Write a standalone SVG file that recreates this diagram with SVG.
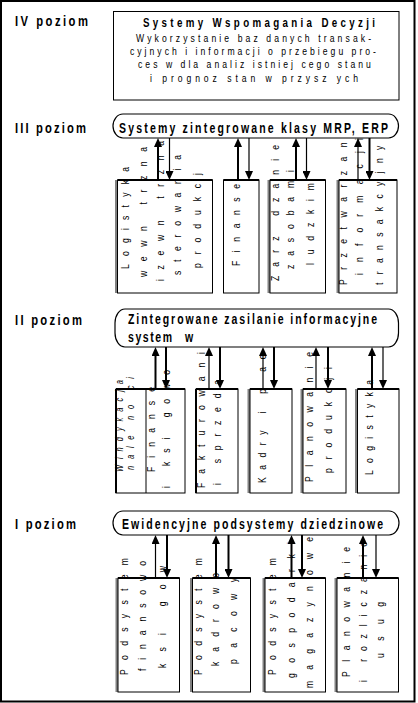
<svg xmlns="http://www.w3.org/2000/svg" width="418" height="703" viewBox="0 0 418 703">
<style>
text{font-family:"Liberation Sans",Arial,sans-serif;fill:#000}
.lbl{font-weight:bold;font-size:15px}
.pt{font-weight:bold;font-size:14px}
.tt{font-weight:bold;font-size:13px}
.bt{font-size:11.5px}
.vt{font-size:11.5px}
.it{font-size:10px;font-style:italic}
.frame{fill:none;stroke:#000;stroke-width:2}
.box{fill:#fff;stroke:#000;stroke-width:1}
.top{stroke:#000;stroke-width:2}
.sh{fill:#808080}
.dk{fill:#000}
.pill{fill:#fff;stroke:#000;stroke-width:1.2}
.c{stroke:#000;fill:none;marker-end:url(#ah)}
.w2{stroke-width:2}
.w1{stroke-width:1.2}
</style>
<defs>
<marker id="ah" viewBox="0 0 9 8" refX="5" refY="4" markerWidth="9" markerHeight="8" markerUnits="userSpaceOnUse" orient="auto"><path d="M0,0 L9,4 L0,8 z" fill="#000"/></marker>
</defs>
<rect x="0" y="0" width="418" height="703" fill="#fff"/>
<rect class="frame" x="1" y="1" width="413.5" height="700.5"/>

<g id="labels">
<text class="lbl" transform="translate(15,25.5) scale(0.75,1)" textLength="97.3" lengthAdjust="spacing">IV poziom</text>
<text class="lbl" transform="translate(15,133) scale(0.75,1)" textLength="94.7" lengthAdjust="spacing">III poziom</text>
<text class="lbl" transform="translate(15,324.5) scale(0.75,1)" textLength="89.3" lengthAdjust="spacing">II poziom</text>
<text class="lbl" transform="translate(15,529) scale(0.75,1)" textLength="81.3" lengthAdjust="spacing">I poziom</text>
</g>

<g id="n4">
<rect class="box" x="113.5" y="11.5" width="285.5" height="88.5" stroke-width="1.5"/>
<text class="tt" transform="translate(143,27.3) scale(0.75,1)" textLength="309.4" lengthAdjust="spacing">Systemy Wspomagania Decyzji</text>
<text class="bt" transform="translate(136,41.5) scale(0.75,1)" textLength="313.4" lengthAdjust="spacing">Wykorzystanie baz danych transak-</text>
<text class="bt" transform="translate(130,54.5) scale(0.75,1)" textLength="328" lengthAdjust="spacing">cyjnych i informacji o przebiegu pro-</text>
<text class="bt" transform="translate(138,67.7) scale(0.75,1)" textLength="310.5" lengthAdjust="spacing">ces w dla analiz istniej cego stanu</text>
<text class="bt" transform="translate(150,81.5) scale(0.75,1)" textLength="277.4" lengthAdjust="spacing">i prognoz stan w przysz ych</text>
</g>

<!-- level III boxes -->
<g id="n3_1">
<rect class="sh" x="115" y="180" width="2.5" height="113"/>
<rect class="box" x="117.5" y="180" width="95" height="113"/>
<line class="top" x1="117.5" y1="180" x2="212.5" y2="180"/>
<text class="vt" transform="translate(129,269) rotate(-90) scale(0.75,1)" textLength="136" lengthAdjust="spacing">Logistyka</text>
<text class="vt" transform="translate(147,277) rotate(-90) scale(0.75,1)" textLength="173.3" lengthAdjust="spacing">wewn trzna</text>
<text class="vt" transform="translate(164,281) rotate(-90) scale(0.75,1)" textLength="186.6" lengthAdjust="spacing">izewn trzna</text>
<text class="vt" transform="translate(181,275) rotate(-90) scale(0.75,1)" textLength="160" lengthAdjust="spacing">sterowania</text>
<text class="vt" transform="translate(200.5,268) rotate(-90) scale(0.75,1)" textLength="126.7" lengthAdjust="spacing">produkcj</text>
</g>
<g id="n3_2">
<rect class="box" x="223.5" y="180" width="35.5" height="113"/>
<line class="top" x1="223.5" y1="180" x2="259" y2="180"/>
<text class="vt" transform="translate(240,266) rotate(-90) scale(0.75,1)" textLength="109.3" lengthAdjust="spacing">Finanse</text>
</g>
<g id="n3_3">
<rect class="sh" x="267.5" y="180" width="2.5" height="113"/>
<rect class="box" x="270" y="180" width="55.5" height="113"/>
<line class="top" x1="270" y1="180" x2="325.5" y2="180"/>
<text class="vt" transform="translate(278.5,281) rotate(-90) scale(0.75,1)" textLength="181.4" lengthAdjust="spacing">Zarz dzanie</text>
<text class="vt" transform="translate(293.5,269) rotate(-90) scale(0.75,1)" textLength="132" lengthAdjust="spacing">zasobami</text>
<text class="vt" transform="translate(314,265) rotate(-90) scale(0.75,1)" textLength="109.3" lengthAdjust="spacing">ludzkim</text>
</g>
<g id="n3_4">
<rect class="sh" x="336.5" y="180" width="2.5" height="113"/>
<rect class="box" x="339" y="180" width="58" height="113"/>
<line class="top" x1="339" y1="180" x2="397" y2="180"/>
<text class="vt" transform="translate(347,285) rotate(-90) scale(0.75,1)" textLength="205.3" lengthAdjust="spacing">Przetwarzani</text>
<text class="vt" transform="translate(363,275) rotate(-90) scale(0.75,1)" textLength="182.6" lengthAdjust="spacing">informacji</text>
<text class="vt" transform="translate(383,285) rotate(-90) scale(0.75,1)" textLength="202.7" lengthAdjust="spacing">transakcyjnyc</text>
</g>

<!-- level II boxes -->
<g id="n2_1">
<rect class="box" x="116" y="389" width="69" height="104"/>
<line class="top" x1="116" y1="389" x2="185" y2="389"/>
<rect class="dk" x="115" y="389" width="2" height="104"/>
<line x1="146" y1="389" x2="146" y2="493" stroke="#000" stroke-width="1"/>
<text class="it" transform="translate(123,472) rotate(-90) scale(0.75,1)" textLength="122.7" lengthAdjust="spacing">Windykacja</text>
<text class="it" transform="translate(134,470) rotate(-90) scale(0.75,1)" textLength="124" lengthAdjust="spacing">nale no ci</text>
<text class="vt" transform="translate(155,472) rotate(-90) scale(0.75,1)" textLength="113.4" lengthAdjust="spacing">Finanse</text>
<text class="vt" transform="translate(170,488) rotate(-90) scale(0.75,1)" textLength="157.3" lengthAdjust="spacing">i ksi gowo</text>
</g>
<g id="n2_2">
<rect class="box" x="196" y="389" width="42" height="104"/>
<line class="top" x1="196" y1="389" x2="238" y2="389"/>
<rect class="dk" x="195" y="389" width="2" height="104"/>
<text class="vt" transform="translate(205,488) rotate(-90) scale(0.75,1)" textLength="181.4" lengthAdjust="spacing">Fakturowani</text>
<text class="vt" transform="translate(221,485) rotate(-90) scale(0.75,1)" textLength="140" lengthAdjust="spacing">i sprzeda</text>
</g>
<g id="n2_3">
<rect class="sh" x="247.5" y="389" width="2.5" height="104"/>
<rect class="box" x="250" y="389" width="42" height="104"/>
<line class="top" x1="250" y1="389" x2="292" y2="389"/>
<text class="vt" transform="translate(266,483) rotate(-90) scale(0.75,1)" textLength="170.6" lengthAdjust="spacing">Kadry i p ac</text>
</g>
<g id="n2_4">
<rect class="sh" x="300.5" y="389" width="2.5" height="104"/>
<rect class="box" x="303" y="389" width="43" height="104"/>
<line class="top" x1="303" y1="389" x2="346" y2="389"/>
<text class="vt" transform="translate(313,482) rotate(-90) scale(0.75,1)" textLength="173.3" lengthAdjust="spacing">Planowanie</text>
<text class="vt" transform="translate(332,473) rotate(-90) scale(0.75,1)" textLength="141.4" lengthAdjust="spacing">produkcji</text>
</g>
<g id="n2_5">
<rect class="sh" x="355" y="389" width="2.5" height="104"/>
<rect class="box" x="357.5" y="389" width="41.5" height="104"/>
<line class="top" x1="357.5" y1="389" x2="399" y2="389"/>
<text class="vt" transform="translate(373,475) rotate(-90) scale(0.75,1)" textLength="126.7" lengthAdjust="spacing">Logistyka</text>
</g>

<!-- level I boxes -->
<g id="n1_1">
<rect class="sh" x="115.5" y="578" width="2.5" height="114"/>
<rect class="box" x="118" y="578" width="61.5" height="114"/>
<line class="top" x1="118" y1="578" x2="179.5" y2="578"/>
<text class="vt" transform="translate(128,675) rotate(-90) scale(0.75,1)" textLength="156" lengthAdjust="spacing">Podsystem</text>
<text class="vt" transform="translate(146,671) rotate(-90) scale(0.75,1)" textLength="146.6" lengthAdjust="spacing">finansowo</text>
<text class="vt" transform="translate(165.5,668) rotate(-90) scale(0.75,1)" textLength="136" lengthAdjust="spacing">ksi gow</text>
</g>
<g id="n1_2">
<rect class="sh" x="190" y="578" width="2.5" height="114"/>
<rect class="box" x="192.5" y="578" width="58" height="114"/>
<line class="top" x1="192.5" y1="578" x2="250.5" y2="578"/>
<text class="vt" transform="translate(202,675) rotate(-90) scale(0.75,1)" textLength="156" lengthAdjust="spacing">Podsystem</text>
<text class="vt" transform="translate(218.5,666) rotate(-90) scale(0.75,1)" textLength="124" lengthAdjust="spacing">kadrowo</text>
<text class="vt" transform="translate(237,664) rotate(-90) scale(0.75,1)" textLength="114.7" lengthAdjust="spacing">pacowy</text>
</g>
<g id="n1_3">
<rect class="sh" x="262.5" y="578" width="2.5" height="114"/>
<rect class="box" x="265" y="578" width="60.5" height="114"/>
<line class="top" x1="265" y1="578" x2="325.5" y2="578"/>
<text class="vt" transform="translate(276,675) rotate(-90) scale(0.75,1)" textLength="156" lengthAdjust="spacing">Podsystem</text>
<text class="vt" transform="translate(295,678) rotate(-90) scale(0.75,1)" textLength="181.4" lengthAdjust="spacing">gospodarki</text>
<text class="vt" transform="translate(313,688) rotate(-90) scale(0.75,1)" textLength="201.3" lengthAdjust="spacing">magazynowe</text>
</g>
<g id="n1_4">
<rect class="sh" x="334.5" y="578" width="2.5" height="114"/>
<rect class="box" x="337" y="578" width="61.5" height="114"/>
<line class="top" x1="337" y1="578" x2="398.5" y2="578"/>
<text class="vt" transform="translate(349.5,677) rotate(-90) scale(0.75,1)" textLength="173.3" lengthAdjust="spacing">Planowanie</text>
<text class="vt" transform="translate(366.5,682) rotate(-90) scale(0.75,1)" textLength="186.6" lengthAdjust="spacing">i rozliczanie</text>
<text class="vt" transform="translate(383.5,658) rotate(-90) scale(0.75,1)" textLength="74.7" lengthAdjust="spacing">usug</text>
</g>

<g id="connectors">
<!-- III -->
<line class="c w2" x1="158" y1="180" x2="158" y2="142"/>
<line class="c w1" x1="169.5" y1="138" x2="169.5" y2="176"/>
<line class="c w2" x1="238" y1="180" x2="238" y2="142"/>
<line class="c w1" x1="249" y1="138" x2="249" y2="176"/>
<line class="c w2" x1="296" y1="180" x2="296" y2="142"/>
<line class="c w1" x1="306.5" y1="138" x2="306.5" y2="176"/>
<line class="c w1" x1="358" y1="180" x2="358" y2="142"/>
<line class="c w2" x1="369.5" y1="138" x2="369.5" y2="176"/>
<!-- II -->
<line class="c w2" x1="155.5" y1="389" x2="155.5" y2="351"/>
<line class="c w2" x1="166" y1="347" x2="166" y2="385"/>
<line class="c w1" x1="209" y1="389" x2="209" y2="351"/>
<line class="c w2" x1="220" y1="347" x2="220" y2="385"/>
<line class="c w1" x1="263" y1="389" x2="263" y2="351"/>
<line class="c w2" x1="274" y1="347" x2="274" y2="385"/>
<line class="c w1" x1="316" y1="389" x2="316" y2="351"/>
<line class="c w2" x1="328" y1="347" x2="328" y2="385"/>
<line class="c w2" x1="372" y1="389" x2="372" y2="351"/>
<line class="c w1" x1="383" y1="347" x2="383" y2="385"/>
<!-- I -->
<line class="c w1" x1="155.5" y1="578" x2="155.5" y2="539"/>
<line class="c w2" x1="167" y1="535" x2="167" y2="574"/>
<line class="c w2" x1="216" y1="578" x2="216" y2="539"/>
<line class="c w2" x1="228.5" y1="535" x2="228.5" y2="574"/>
<line class="c w2" x1="291.5" y1="578" x2="291.5" y2="539"/>
<line class="c w2" x1="302" y1="535" x2="302" y2="574"/>
<line class="c w2" x1="363" y1="578" x2="363" y2="539"/>
<line class="c w1" x1="376" y1="535" x2="376" y2="574"/>
</g>

<g id="p3">
<rect class="pill" x="113" y="114" width="285.5" height="24" rx="10" ry="12"/>
<text class="pt" transform="translate(119,132.7) scale(0.75,1)" textLength="358.6" lengthAdjust="spacing">Systemy zintegrowane klasy MRP, ERP</text>
</g>
<g id="p2">
<rect class="pill" x="115" y="309" width="283.5" height="38" rx="10" ry="14"/>
<text class="pt" transform="translate(128,324) scale(0.75,1)" textLength="332" lengthAdjust="spacing">Zintegrowane zasilanie informacyjne</text>
<text class="pt" transform="translate(128,341.5) scale(0.75,1)" textLength="58.7" lengthAdjust="spacing">system</text>
<text class="pt" transform="translate(185,341.5) scale(0.75,1)">w</text>
</g>
<g id="p1">
<rect class="pill" x="113" y="511" width="286" height="24" rx="10" ry="12"/>
<text class="pt" transform="translate(122,528.5) scale(0.75,1)" textLength="348" lengthAdjust="spacing">Ewidencyjne podsystemy dziedzinowe</text>
</g>
</svg>
